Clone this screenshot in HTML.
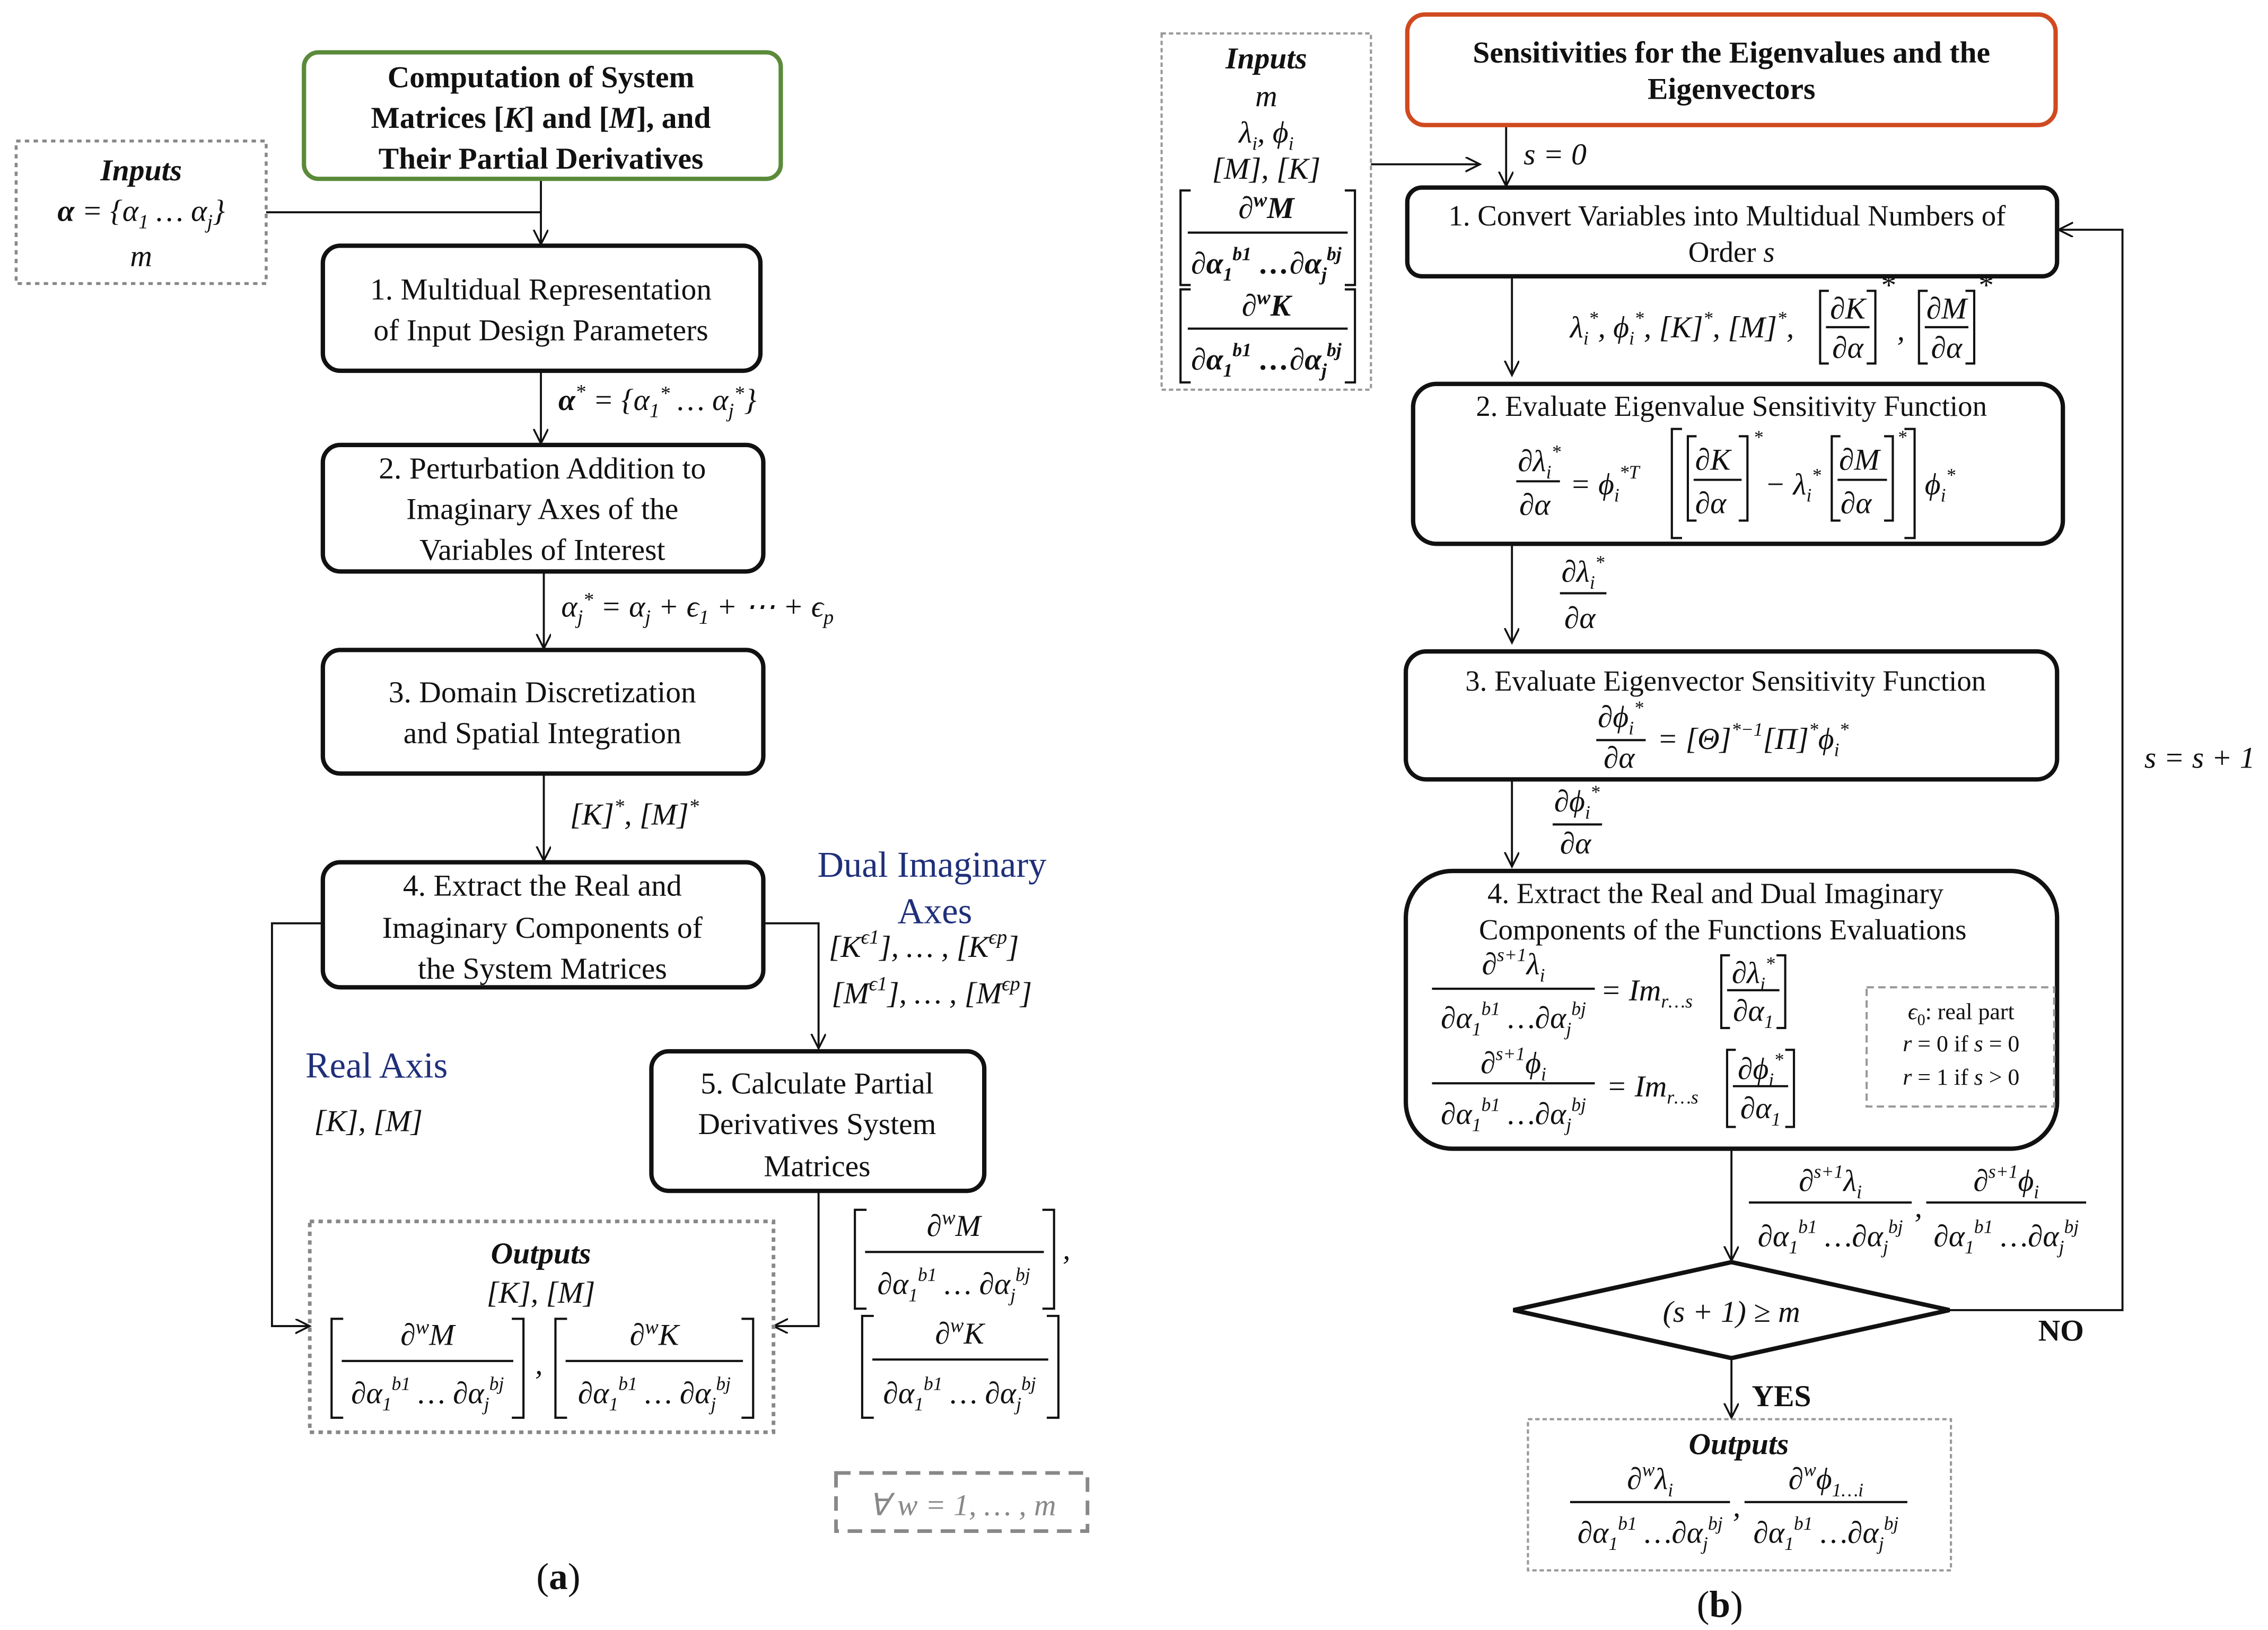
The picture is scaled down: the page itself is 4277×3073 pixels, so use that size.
<!DOCTYPE html>
<html><head><meta charset="utf-8"><style>
html,body{margin:0;padding:0;background:#fff}
svg{display:block}
text{font-family:"Liberation Serif",serif;fill:#111}
.t{font-size:21px}
.m{font-size:21px;font-style:italic}
.b{font-weight:bold}
.bl{fill:#1f2f7a;font-size:25px}
</style></head><body>
<svg width="4277" height="3073" viewBox="0 0 1560 1121" xmlns="http://www.w3.org/2000/svg">
<defs>
<marker id="ar" markerWidth="12" markerHeight="12" refX="10" refY="5" orient="auto" markerUnits="userSpaceOnUse">
<path d="M0,0 L10,5 L0,10" fill="none" stroke="#111" stroke-width="1.3"/>
</marker>
</defs>
<g fill="none" stroke="#111" stroke-width="1.4">
<!-- ===== (a) connectors ===== -->
<path d="M183,146 H372" />
<path d="M372,123 V168" marker-end="url(#ar)"/>
<path d="M372,255 V305" marker-end="url(#ar)"/>
<path d="M374,393 V446" marker-end="url(#ar)"/>
<path d="M374,532 V592" marker-end="url(#ar)"/>
<path d="M222,635 H187 V912 H213" marker-end="url(#ar)"/>
<path d="M525,635 H563 V721" marker-end="url(#ar)"/>
<path d="M563,819 V912 H532" marker-end="url(#ar)"/>
<!-- ===== (b) connectors ===== -->
<path d="M943,113 H1018" marker-end="url(#ar)"/>
<path d="M1036,86 V128" marker-end="url(#ar)"/>
<path d="M1040,190 V258" marker-end="url(#ar)"/>
<path d="M1040,374 V442" marker-end="url(#ar)"/>
<path d="M1040,536 V596" marker-end="url(#ar)"/>
<path d="M1191,790 V867" marker-end="url(#ar)"/>
<path d="M1341,901 H1460 V158 H1416" marker-end="url(#ar)"/>
<path d="M1191,934 V975" marker-end="url(#ar)"/>
</g>

<!-- ===== boxes (a) ===== -->
<rect x="209" y="36" width="328" height="87" rx="10" fill="#fff" stroke="#5a8a3a" stroke-width="3"/>
<rect x="11" y="97" width="172" height="98" fill="none" stroke="#888" stroke-width="2" stroke-dasharray="3,3"/>
<g fill="#fff" stroke="#111" stroke-width="3">
<rect x="222" y="169" width="301" height="86" rx="12"/>
<rect x="222" y="306" width="303" height="87" rx="12"/>
<rect x="222" y="447" width="303" height="85" rx="12"/>
<rect x="222" y="593" width="303" height="86" rx="12"/>
<rect x="448" y="723" width="229" height="96" rx="12"/>
</g>
<rect x="213" y="840" width="319" height="145" fill="none" stroke="#888" stroke-width="2.5" stroke-dasharray="3,3"/>
<rect x="575" y="1013" width="173" height="40" fill="none" stroke="#888" stroke-width="2.5" stroke-dasharray="10,6"/>

<!-- text (a) -->
<g class="t b" text-anchor="middle" font-size="21" font-weight="bold">
<text x="372" y="60" class="b">Computation of System</text>
<text x="372" y="88" class="b">Matrices [<tspan font-style="italic">K</tspan>] and [<tspan font-style="italic">M</tspan>], and</text>
<text x="372" y="116" class="b">Their Partial Derivatives</text>
</g>
<text x="97" y="124" text-anchor="middle" class="t b" font-style="italic">Inputs</text>
<text x="97" y="152" text-anchor="middle" class="m"><tspan font-weight="bold">α</tspan> = {α<tspan font-size="14" dy="5">1</tspan><tspan dy="-5"> … α</tspan><tspan font-size="14" dy="5">j</tspan><tspan dy="-5">}</tspan></text>
<text x="97" y="183" text-anchor="middle" class="m">m</text>

<g class="t" text-anchor="middle">
<text x="372" y="206">1. Multidual Representation</text>
<text x="372" y="234">of Input Design Parameters</text>
<text x="373" y="329">2. Perturbation Addition to</text>
<text x="373" y="357">Imaginary Axes of the</text>
<text x="373" y="385">Variables of Interest</text>
<text x="373" y="483">3. Domain Discretization</text>
<text x="373" y="511">and Spatial Integration</text>
<text x="373" y="616">4. Extract the Real and</text>
<text x="373" y="645">Imaginary Components of</text>
<text x="373" y="673">the System Matrices</text>
<text x="562" y="752">5. Calculate Partial</text>
<text x="562" y="780">Derivatives System</text>
<text x="562" y="809">Matrices</text>
</g>
<text x="384" y="282" class="m"><tspan font-weight="bold">α</tspan><tspan font-size="14" dy="-8">*</tspan><tspan dy="8"> = {α</tspan><tspan font-size="14" dy="5">1</tspan><tspan font-size="14" dy="-12">*</tspan><tspan dy="7"> … α</tspan><tspan font-size="14" dy="5">j</tspan><tspan font-size="14" dy="-12">*</tspan><tspan dy="7">}</tspan></text>
<text x="386" y="424" class="m">α<tspan font-size="14" dy="5">j</tspan><tspan font-size="14" dy="-12">*</tspan><tspan dy="7"> = α</tspan><tspan font-size="14" dy="5">j</tspan><tspan dy="-5"> + ϵ</tspan><tspan font-size="14" dy="5">1</tspan><tspan dy="-5"> + ⋯ + ϵ</tspan><tspan font-size="14" dy="5">p</tspan></text>
<text x="392" y="567" class="m">[K]<tspan font-size="14" dy="-8">*</tspan><tspan dy="8">, [M]</tspan><tspan font-size="14" dy="-8">*</tspan></text>
<text x="641" y="603" text-anchor="middle" class="bl">Dual Imaginary</text>
<text x="643" y="635" text-anchor="middle" class="bl">Axes</text>
<text x="570" y="658" class="m">[K<tspan font-size="14" dy="-9">ϵ1</tspan><tspan dy="9">], … , [K</tspan><tspan font-size="14" dy="-9">ϵp</tspan><tspan dy="9">]</tspan></text>
<text x="572" y="690" class="m">[M<tspan font-size="14" dy="-9">ϵ1</tspan><tspan dy="9">], … , [M</tspan><tspan font-size="14" dy="-9">ϵp</tspan><tspan dy="9">]</tspan></text>
<text x="210" y="741" class="bl">Real Axis</text>
<text x="216" y="778" class="m">[K], [M]</text>

<text x="372" y="869" text-anchor="middle" class="t b" font-style="italic">Outputs</text>
<text x="372" y="896" text-anchor="middle" class="m">[K], [M]</text>

<!-- fraction helper drawings (a outputs) -->
<g fill="none" stroke="#111" stroke-width="1.5">
<path d="M236,907 H228 V975 H236"/><path d="M352,907 H360 V975 H352"/>
<path d="M235,936 H353"/>
<path d="M390,907 H382 V975 H390"/><path d="M510,907 H518 V975 H510"/>
<path d="M389,936 H511"/>
<path d="M596,832 H588 V900 H596"/><path d="M717,832 H725 V900 H717"/>
<path d="M595,861 H718"/>
<path d="M601,905 H593 V975 H601"/><path d="M720,905 H728 V975 H720"/>
<path d="M600,935 H721"/>
</g>
<g class="m" text-anchor="middle">
<text x="294" y="925">∂<tspan font-size="14" dy="-8">w</tspan><tspan dy="8">M</tspan></text>
<text x="294" y="965">∂α<tspan font-size="13" dy="5">1</tspan><tspan font-size="13" dy="-14">b1</tspan><tspan dy="9"> … ∂α</tspan><tspan font-size="13" dy="5">j</tspan><tspan font-size="13" dy="-14">bj</tspan></text>
<text x="450" y="925">∂<tspan font-size="14" dy="-8">w</tspan><tspan dy="8">K</tspan></text>
<text x="450" y="965">∂α<tspan font-size="13" dy="5">1</tspan><tspan font-size="13" dy="-14">b1</tspan><tspan dy="9"> … ∂α</tspan><tspan font-size="13" dy="5">j</tspan><tspan font-size="13" dy="-14">bj</tspan></text>
<text x="656" y="850">∂<tspan font-size="14" dy="-8">w</tspan><tspan dy="8">M</tspan></text>
<text x="656" y="890">∂α<tspan font-size="13" dy="5">1</tspan><tspan font-size="13" dy="-14">b1</tspan><tspan dy="9"> … ∂α</tspan><tspan font-size="13" dy="5">j</tspan><tspan font-size="13" dy="-14">bj</tspan></text>
<text x="660" y="924">∂<tspan font-size="14" dy="-8">w</tspan><tspan dy="8">K</tspan></text>
<text x="660" y="965">∂α<tspan font-size="13" dy="5">1</tspan><tspan font-size="13" dy="-14">b1</tspan><tspan dy="9"> … ∂α</tspan><tspan font-size="13" dy="5">j</tspan><tspan font-size="13" dy="-14">bj</tspan></text>
</g>
<text x="368" y="945" class="m">,</text>
<text x="731" y="866" class="m">,</text>
<text x="662" y="1042" text-anchor="middle" class="m" fill="#888" style="fill:#888">∀ w = 1, … , m</text>
<text x="384" y="1093" text-anchor="middle" font-size="26">(<tspan font-weight="bold">a</tspan>)</text>

<!-- ===== (b) boxes ===== -->
<rect x="799" y="23" width="144" height="245" fill="none" stroke="#999" stroke-width="1.5" stroke-dasharray="3,2"/>
<rect x="968" y="10" width="446" height="76" rx="12" fill="#fff" stroke="#d04a20" stroke-width="3"/>
<g fill="#fff" stroke="#111" stroke-width="3">
<rect x="968" y="129" width="447" height="61" rx="10"/>
<rect x="972" y="264" width="447" height="110" rx="16"/>
<rect x="967" y="448" width="448" height="88" rx="14"/>
<rect x="967" y="599" width="448" height="191" rx="32"/>
<path d="M1041,901 L1191,868 L1341,901 L1191,934 Z"/>
</g>
<rect x="1284" y="679" width="129" height="82" fill="none" stroke="#999" stroke-width="1.5" stroke-dasharray="5,3"/>
<rect x="1051" y="976" width="291" height="104" fill="none" stroke="#999" stroke-width="1.5" stroke-dasharray="3,2"/>

<text x="871" y="47" text-anchor="middle" class="t b" font-style="italic">Inputs</text>
<text x="871" y="73" text-anchor="middle" class="m">m</text>
<text x="871" y="98" text-anchor="middle" class="m">λ<tspan font-size="13" dy="5">i</tspan><tspan dy="-5">, ϕ</tspan><tspan font-size="13" dy="5">i</tspan></text>
<text x="871" y="123" text-anchor="middle" class="m">[M], [K]</text>
<g fill="none" stroke="#111" stroke-width="1.5">
<path d="M819,131 H812 V196 H819"/><path d="M925,131 H932 V196 H925"/><path d="M817,160 H927"/>
<path d="M819,199 H812 V263 H819"/><path d="M925,199 H932 V263 H925"/><path d="M817,226 H927"/>
</g>
<g class="m" text-anchor="middle">
<text x="871" y="150" font-weight="bold">∂<tspan font-size="14" dy="-8">w</tspan><tspan dy="8">M</tspan></text>
<text x="871" y="188" font-weight="bold">∂α<tspan font-size="13" dy="5">1</tspan><tspan font-size="13" dy="-14">b1</tspan><tspan dy="9"> …∂α</tspan><tspan font-size="13" dy="5">j</tspan><tspan font-size="13" dy="-14">bj</tspan></text>
<text x="871" y="217" font-weight="bold">∂<tspan font-size="14" dy="-8">w</tspan><tspan dy="8">K</tspan></text>
<text x="871" y="254" font-weight="bold">∂α<tspan font-size="13" dy="5">1</tspan><tspan font-size="13" dy="-14">b1</tspan><tspan dy="9"> …∂α</tspan><tspan font-size="13" dy="5">j</tspan><tspan font-size="13" dy="-14">bj</tspan></text>
</g>

<text x="1191" y="43" text-anchor="middle" class="t" font-weight="bold" font-size="20">Sensitivities for the Eigenvalues and the</text>
<text x="1191" y="68" text-anchor="middle" class="t" font-weight="bold" font-size="20">Eigenvectors</text>
<text x="1048" y="113" class="m" font-size="20">s = 0</text>

<g class="t" text-anchor="middle" font-size="20">
<text x="1188" y="155" font-size="20">1. Convert Variables into Multidual Numbers of</text>
<text x="1191" y="180" font-size="20">Order <tspan font-style="italic">s</tspan></text>
<text x="1191" y="286" font-size="20">2. Evaluate Eigenvalue Sensitivity Function</text>
<text x="1187" y="475" font-size="20">3. Evaluate Eigenvector Sensitivity Function</text>
<text x="1180" y="621" font-size="20">4. Extract the Real and Dual Imaginary</text>
<text x="1185" y="646" font-size="20">Components of the Functions Evaluations</text>
</g>

<!-- label after box1 -->
<text x="1080" y="232" class="m">λ<tspan font-size="13" dy="5">i</tspan><tspan font-size="13" dy="-14">*</tspan><tspan dy="9">, ϕ</tspan><tspan font-size="13" dy="5">i</tspan><tspan font-size="13" dy="-14">*</tspan><tspan dy="9">, [K]</tspan><tspan font-size="13" dy="-9">*</tspan><tspan dy="9">, [M]</tspan><tspan font-size="13" dy="-9">*</tspan><tspan dy="9">,</tspan></text>
<g fill="none" stroke="#111" stroke-width="1.5">
<path d="M1258,200 H1252 V250 H1258"/><path d="M1284,200 H1290 V250 H1284"/><path d="M1256,225 H1286"/>
<path d="M1326,200 H1320 V250 H1326"/><path d="M1352,200 H1358 V250 H1352"/><path d="M1324,225 H1354"/>
</g>
<g class="m" text-anchor="middle">
<text x="1271" y="219">∂K</text><text x="1271" y="246">∂α</text>
<text x="1339" y="219">∂M</text><text x="1339" y="246">∂α</text>
</g>
<text x="1293" y="203" class="m" font-size="13">*</text>
<text x="1360" y="203" class="m" font-size="13">*</text>
<text x="1305" y="234" class="m">,</text>

<!-- box2 formula -->
<g fill="none" stroke="#111" stroke-width="1.5">
<path d="M1043,331 H1073"/>
<path d="M1157,295 H1150 V370 H1157"/><path d="M1310,295 H1317 V370 H1310"/>
<path d="M1167,300 H1161 V358 H1167"/><path d="M1196,300 H1202 V358 H1196"/><path d="M1165,330 H1198"/>
<path d="M1266,300 H1260 V358 H1266"/><path d="M1296,300 H1302 V358 H1296"/><path d="M1264,330 H1298"/>
</g>
<g class="m">
<text x="1044" y="324">∂λ<tspan font-size="13" dy="5">i</tspan><tspan font-size="13" dy="-14">*</tspan></text>
<text x="1045" y="354">∂α</text>
<text x="1080" y="340">= ϕ<tspan font-size="13" dy="5">i</tspan><tspan font-size="13" dy="-16">*T</tspan></text>
<text x="1166" y="323">∂K</text><text x="1166" y="353">∂α</text>
<text x="1206" y="305" font-size="13">*</text>
<text x="1214" y="340">− λ<tspan font-size="13" dy="5">i</tspan><tspan font-size="13" dy="-14">*</tspan></text>
<text x="1265" y="323">∂M</text><text x="1266" y="353">∂α</text>
<text x="1305" y="305" font-size="13">*</text>
<text x="1324" y="340">ϕ<tspan font-size="13" dy="5">i</tspan><tspan font-size="13" dy="-14">*</tspan></text>
</g>

<!-- label after box2 -->
<path d="M1073,408 H1105" stroke="#111" stroke-width="1.5"/>
<text x="1074" y="400" class="m">∂λ<tspan font-size="13" dy="5">i</tspan><tspan font-size="13" dy="-14">*</tspan></text>
<text x="1076" y="432" class="m">∂α</text>

<!-- box3 formula -->
<path d="M1098,509 H1132" stroke="#111" stroke-width="1.5"/>
<text x="1099" y="500" class="m">∂ϕ<tspan font-size="13" dy="5">i</tspan><tspan font-size="13" dy="-14">*</tspan></text>
<text x="1103" y="528" class="m">∂α</text>
<text x="1140" y="515" class="m">= [Θ]<tspan font-size="13" dy="-9">*−1</tspan><tspan dy="9">[Π]</tspan><tspan font-size="13" dy="-9">*</tspan><tspan dy="9">ϕ</tspan><tspan font-size="13" dy="5">i</tspan><tspan font-size="13" dy="-14">*</tspan></text>

<!-- label after box3 -->
<path d="M1068,567 H1102" stroke="#111" stroke-width="1.5"/>
<text x="1069" y="558" class="m">∂ϕ<tspan font-size="13" dy="5">i</tspan><tspan font-size="13" dy="-14">*</tspan></text>
<text x="1073" y="587" class="m">∂α</text>

<!-- box4 formulas -->
<g fill="none" stroke="#111" stroke-width="1.5">
<path d="M985,680 H1097"/><path d="M985,745 H1097"/>
<path d="M1190,657 H1184 V707 H1190"/><path d="M1222,657 H1228 V707 H1222"/><path d="M1188,681 H1224"/>
<path d="M1194,722 H1188 V775 H1194"/><path d="M1228,722 H1234 V775 H1228"/><path d="M1192,747 H1230"/>
</g>
<g class="m">
<text x="1041" y="670" text-anchor="middle">∂<tspan font-size="13" dy="-9">s+1</tspan><tspan dy="9">λ</tspan><tspan font-size="13" dy="5">i</tspan></text>
<text x="1041" y="707" text-anchor="middle">∂α<tspan font-size="13" dy="5">1</tspan><tspan font-size="13" dy="-14">b1</tspan><tspan dy="9"> …∂α</tspan><tspan font-size="13" dy="5">j</tspan><tspan font-size="13" dy="-14">bj</tspan></text>
<text x="1101" y="688">= Im<tspan font-size="13" dy="5">r…s</tspan></text>
<text x="1206" y="676" text-anchor="middle">∂λ<tspan font-size="13" dy="5">i</tspan><tspan font-size="13" dy="-14">*</tspan></text>
<text x="1206" y="702" text-anchor="middle">∂α<tspan font-size="13" dy="5">1</tspan></text>
<text x="1041" y="738" text-anchor="middle">∂<tspan font-size="13" dy="-9">s+1</tspan><tspan dy="9">ϕ</tspan><tspan font-size="13" dy="5">i</tspan></text>
<text x="1041" y="773" text-anchor="middle">∂α<tspan font-size="13" dy="5">1</tspan><tspan font-size="13" dy="-14">b1</tspan><tspan dy="9"> …∂α</tspan><tspan font-size="13" dy="5">j</tspan><tspan font-size="13" dy="-14">bj</tspan></text>
<text x="1105" y="754">= Im<tspan font-size="13" dy="5">r…s</tspan></text>
<text x="1211" y="742" text-anchor="middle">∂ϕ<tspan font-size="13" dy="5">i</tspan><tspan font-size="13" dy="-14">*</tspan></text>
<text x="1211" y="769" text-anchor="middle">∂α<tspan font-size="13" dy="5">1</tspan></text>
</g>
<g font-size="16" text-anchor="middle">
<text x="1349" y="701"><tspan font-style="italic">ϵ</tspan><tspan font-size="11" dy="4">0</tspan><tspan dy="-4">: real part</tspan></text>
<text x="1349" y="723"><tspan font-style="italic">r</tspan> = 0 if <tspan font-style="italic">s</tspan> = 0</text>
<text x="1349" y="746"><tspan font-style="italic">r</tspan> = 1 if <tspan font-style="italic">s</tspan> &gt; 0</text>
</g>

<!-- label after box4 -->
<g fill="none" stroke="#111" stroke-width="1.5"><path d="M1203,827 H1315"/><path d="M1325,827 H1435"/></g>
<g class="m" text-anchor="middle">
<text x="1259" y="819">∂<tspan font-size="13" dy="-9">s+1</tspan><tspan dy="9">λ</tspan><tspan font-size="13" dy="5">i</tspan></text>
<text x="1259" y="857">∂α<tspan font-size="13" dy="5">1</tspan><tspan font-size="13" dy="-14">b1</tspan><tspan dy="9"> …∂α</tspan><tspan font-size="13" dy="5">j</tspan><tspan font-size="13" dy="-14">bj</tspan></text>
<text x="1380" y="819">∂<tspan font-size="13" dy="-9">s+1</tspan><tspan dy="9">ϕ</tspan><tspan font-size="13" dy="5">i</tspan></text>
<text x="1380" y="857">∂α<tspan font-size="13" dy="5">1</tspan><tspan font-size="13" dy="-14">b1</tspan><tspan dy="9"> …∂α</tspan><tspan font-size="13" dy="5">j</tspan><tspan font-size="13" dy="-14">bj</tspan></text>
</g>
<text x="1317" y="837" class="m">,</text>

<text x="1191" y="909" text-anchor="middle" class="m" font-size="20">(s + 1) ≥ m</text>
<text x="1402" y="922" class="t" font-weight="bold" font-size="19">NO</text>
<text x="1205" y="967" class="t" font-weight="bold" font-size="19">YES</text>
<text x="1475" y="528" class="m" font-size="20">s = s + 1</text>

<text x="1196" y="1000" text-anchor="middle" class="t b" font-style="italic" font-size="20">Outputs</text>
<g fill="none" stroke="#111" stroke-width="1.5"><path d="M1080,1033 H1190"/><path d="M1200,1033 H1312"/></g>
<g class="m" text-anchor="middle">
<text x="1135" y="1024">∂<tspan font-size="13" dy="-9">w</tspan><tspan dy="9">λ</tspan><tspan font-size="13" dy="5">i</tspan></text>
<text x="1135" y="1061">∂α<tspan font-size="13" dy="5">1</tspan><tspan font-size="13" dy="-14">b1</tspan><tspan dy="9"> …∂α</tspan><tspan font-size="13" dy="5">j</tspan><tspan font-size="13" dy="-14">bj</tspan></text>
<text x="1256" y="1024">∂<tspan font-size="13" dy="-9">w</tspan><tspan dy="9">ϕ</tspan><tspan font-size="13" dy="5">1…i</tspan></text>
<text x="1256" y="1061">∂α<tspan font-size="13" dy="5">1</tspan><tspan font-size="13" dy="-14">b1</tspan><tspan dy="9"> …∂α</tspan><tspan font-size="13" dy="5">j</tspan><tspan font-size="13" dy="-14">bj</tspan></text>
</g>
<text x="1192" y="1043" class="m">,</text>
<text x="1183" y="1112" text-anchor="middle" font-size="26">(<tspan font-weight="bold">b</tspan>)</text>
</svg>
</body></html>
